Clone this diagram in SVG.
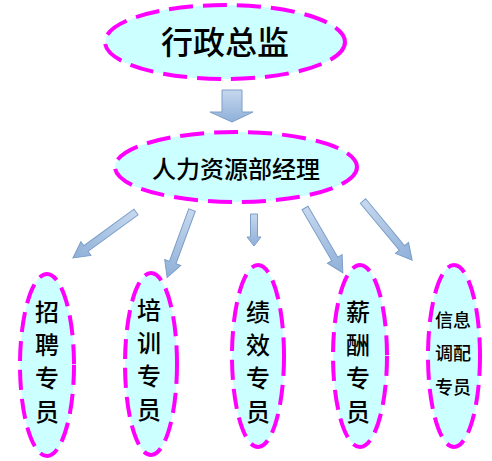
<svg xmlns="http://www.w3.org/2000/svg" width="492" height="461" viewBox="0 0 492 461">
<defs>
<linearGradient id="ag" x1="0" y1="0" x2="0" y2="1">
<stop offset="0" stop-color="#c6d8ee"/>
<stop offset="1" stop-color="#8fb0d9"/>
</linearGradient>
<linearGradient id="ag2" x1="0" y1="0" x2="1" y2="0">
<stop offset="0" stop-color="#c6d8ee"/>
<stop offset="1" stop-color="#8fb0d9"/>
</linearGradient>
</defs>
<style>
.node{fill:#ccffff;stroke:#ff00ff;stroke-width:4;stroke-dasharray:24 10}
.small{stroke-dasharray:20 9}
.t{font-family:"Noto Sans CJK SC","Noto Sans CJK JP",sans-serif;font-weight:500;fill:#000;text-anchor:middle}
.arr{fill:url(#ag2);stroke:#7c9ec8;stroke-width:1}
</style>
<rect width="492" height="461" fill="#fff"/>
<g id="connectors">
<path d="M222,90 H242 V112 H253 L232,122 L210,112 H222 Z" fill="url(#ag)" stroke="#7c9ec8" stroke-width="1"/>
<polygon class="arr" transform="translate(136,212) rotate(143.9)" points="0,-3.5 62,-3.5 62,-8.5 78,0 62,8.5 62,3.5 0,3.5"/>
<polygon class="arr" transform="translate(192,210) rotate(110.2)" points="0,-3.5 56,-3.5 56,-8.5 72,0 56,8.5 56,3.5 0,3.5"/>
<polygon class="arr" transform="translate(254,214) rotate(90)" points="0,-3.5 23,-3.5 23,-7 32,0 23,7 23,3.5 0,3.5"/>
<polygon class="arr" transform="translate(305,208) rotate(59.7)" points="0,-3.5 59,-3.5 59,-8.5 75,0 59,8.5 59,3.5 0,3.5"/>
<polygon class="arr" transform="translate(363,201) rotate(50.3)" points="0,-3.5 61,-3.5 61,-8.5 77,0 61,8.5 61,3.5 0,3.5"/>
</g>
<g id="director">
<ellipse class="node" cx="225" cy="42" rx="120" ry="37"/>
<text class="t" x="225" y="54" font-size="32">行政总监</text>
</g>
<g id="hr-manager">
<ellipse class="node" cx="236" cy="167" rx="121" ry="35"/>
<text class="t" x="236" y="178" font-size="24">人力资源部经理</text>
</g>
<g id="recruit">
<ellipse class="node small" cx="47" cy="365" rx="27" ry="91"/>
<text class="t" font-size="24"><tspan x="47" y="321">招</tspan><tspan x="47" y="354">聘</tspan><tspan x="47" y="387">专</tspan><tspan x="47" y="421">员</tspan></text>
</g>
<g id="training">
<ellipse class="node small" cx="151" cy="364" rx="26" ry="91"/>
<text class="t" font-size="24"><tspan x="149" y="319">培</tspan><tspan x="149" y="352">训</tspan><tspan x="149" y="385">专</tspan><tspan x="149" y="419">员</tspan></text>
</g>
<g id="performance">
<ellipse class="node small" cx="258" cy="356" rx="26" ry="91"/>
<text class="t" font-size="24"><tspan x="258" y="321">绩</tspan><tspan x="258" y="354">效</tspan><tspan x="258" y="387">专</tspan><tspan x="258" y="421">员</tspan></text>
</g>
<g id="salary">
<ellipse class="node small" cx="360" cy="356" rx="27" ry="91"/>
<text class="t" font-size="24"><tspan x="358" y="321">薪</tspan><tspan x="358" y="354">酬</tspan><tspan x="358" y="387">专</tspan><tspan x="358" y="421">员</tspan></text>
</g>
<g id="info">
<ellipse class="node small" cx="454" cy="356" rx="26" ry="91"/>
<text class="t" font-size="18"><tspan x="453" y="327">信息</tspan><tspan x="453" y="360">调配</tspan><tspan x="453" y="394">专员</tspan></text>
</g>
</svg>
